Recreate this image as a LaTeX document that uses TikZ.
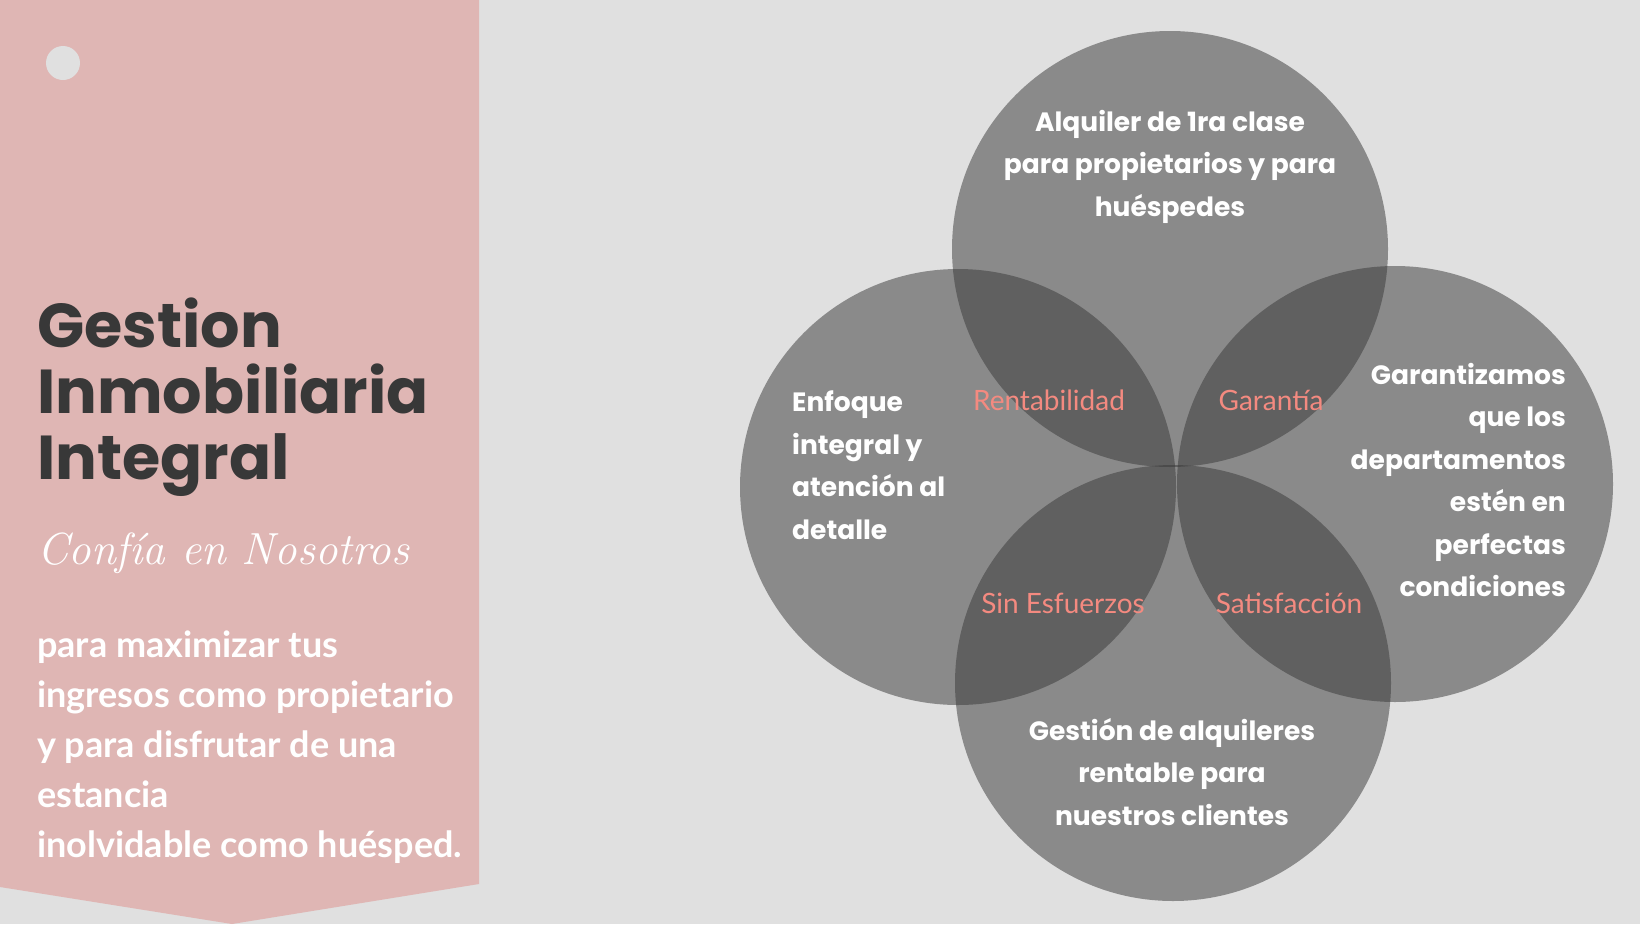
\documentclass[tikz,border=0pt]{standalone}
\usepackage{fontspec}
\usepackage{xcolor}
\newfontfamily\titlefont{Poppins}
\newfontfamily\bodyfont{Lato}
\definecolor{bggray}{HTML}{E0E0E0}
\definecolor{panelpink}{HTML}{DFB6B4}
\definecolor{titlegray}{HTML}{383838}
\definecolor{vennfill}{HTML}{383838}
\definecolor{salmon}{HTML}{F48A80}

\begin{document}
\begin{tikzpicture}[x=1pt,y=-1pt,
    venn/.style={circle,fill=vennfill,fill opacity=0.51,minimum size=436pt,inner sep=0pt},
    blurb/.style={text=white,inner sep=0pt,font=\titlefont\bfseries\fontsize{26.5}{42.5}\selectfont},
    overlap/.style={text=salmon,inner sep=0pt,font=\bodyfont\fontsize{28}{30}\selectfont}]
                \fill[bggray] (0,0) rectangle (1640,924);
                \useasboundingbox (0,0) rectangle (1640,924);
                % left panel
                \fill[panelpink] (0,0) -- (479,0) -- (479,884) -- (232,924) -- (0,887) -- cycle;
                \fill[bggray] (63,63) circle[radius=17pt];
                \node[anchor=north west,inner sep=0pt,align=left,text=titlegray,
                    font=\titlefont\bfseries\fontsize{62}{66}\selectfont] (title) at (37,298)
                    {Gestion\\Inmobiliaria\\Integral};
                \node[anchor=west,inner sep=0pt,text=white,
                    font=\itshape\fontsize{45}{50}\selectfont] (motto) at (37,553) {Confía en Nosotros};
                \node[anchor=north west,inner sep=0pt,align=left,text=white,
                    font=\bodyfont\bfseries\fontsize{36}{50}\selectfont] (pitch) at (37,631)
                    {para maximizar tus\\ingresos como propietario\\y para disfrutar de una\\estancia\\inolvidable como huésped.};
                % venn circles
                \node[venn] (top) at (1170,249) {};
                \node[venn] (left) at (958,487) {};
                \node[venn] (right) at (1395,484) {};
                \node[venn] (bottom) at (1173,683) {};
                \node[blurb,anchor=north,align=center] (toptext) at (1170,110)
                    {Alquiler de 1ra clase\\para propietarios y para\\huéspedes};
                \node[blurb,anchor=north west,align=left] (lefttext) at (792,391)
                    {Enfoque\\integral y\\atención al\\detalle};
                \node[blurb,anchor=north east,align=right] (righttext) at (1566,363)
                    {Garantizamos\\que los\\departamentos\\estén en\\perfectas\\condiciones};
                \node[blurb,anchor=north,align=center] (bottomtext) at (1172,718)
                    {Gestión de alquileres\\rentable para\\nuestros clientes};
                \node[overlap] (rent) at (1049,400) {Rentabilidad};
                \node[overlap] (garant) at (1271,400) {Garantía};
                \node[overlap] (effort) at (1063,603) {Sin Esfuerzos};
                \node[overlap] (satisf) at (1289,603) {Satisfacción};
            \end{tikzpicture}
\end{document}
